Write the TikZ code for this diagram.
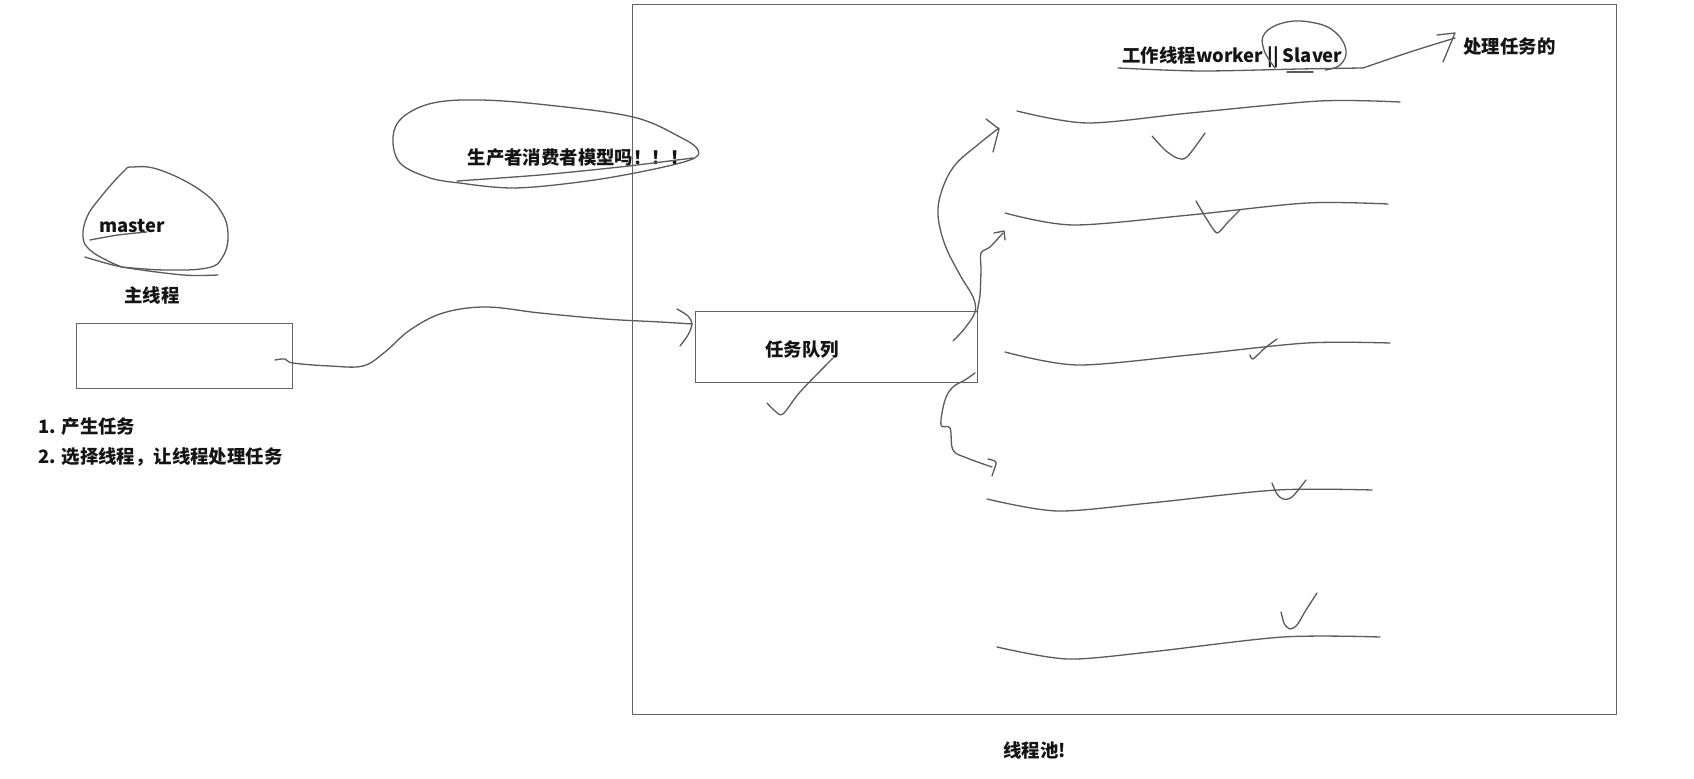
\documentclass[tikz,border=0pt]{standalone}
\usepackage{fontspec}
\setmainfont{Noto Sans CJK SC}
\definecolor{ink}{RGB}{90,90,90}
\definecolor{framec}{RGB}{100,100,100}
\definecolor{txt}{RGB}{20,20,20}
\begin{document}
\begin{tikzpicture}[x=0.5pt,y=-0.5pt,
  pen/.style={draw=ink,line width=0.65pt,line cap=round,line join=round},
  frame/.style={draw=framec,line width=0.65pt,inner sep=0pt},
  lbl/.style={font=\bfseries\fontsize{9.2}{11}\selectfont,text=txt,inner sep=0pt}]
\useasboundingbox (0,0) rectangle (1694,779);
\fill[white] (0,0) rectangle (1694,779);

% boxes
\node[frame,anchor=north west,minimum width=108pt,minimum height=32.5pt] (mainbox) at (76,323) {};
\node[frame,anchor=north west,minimum width=141pt,minimum height=35.5pt] (queue) at (695,311) {};
\node[frame,anchor=north west,minimum width=492pt,minimum height=355pt] (pool) at (632,4) {};

% texts
\node[lbl] (master) at (132,226) {master};
\node[lbl] (mainthread) at (152,295) {主线程};
\node[lbl,anchor=west] (step1) at (38,427) {1. 产生任务};
\node[lbl,anchor=west] (step2) at (38,457) {2. 选择线程，让线程处理任务};
\node[lbl] (question) at (578,158) {生产者消费者模型吗！！！};
\node[lbl] (queuetxt) at (802,350) {任务队列};
\node[lbl,anchor=west] (worker) at (1122,57) {工作线程worker || Slaver};
\node[lbl,anchor=west] (handle) at (1463,47) {处理任务的};
\node[lbl,anchor=west] (pooltxt) at (1003,750) {线程池!};

% master blob
\draw[pen] plot[smooth,tension=0.7] coordinates {(122,267) (165,270) (207,268) (222,258) (228,237) (222,213) (200,190) (160,170) (133,167) (123,172) (100,198) (87,217) (83,237) (90,250) (108,261) (122,267)};
\draw[pen] plot[smooth] coordinates {(85,257) (122,267) (183,275) (218,275)};
\draw[pen] plot[smooth] coordinates {(90,240) (118,235) (147,232)};

% bubble
\draw[pen] plot[smooth,tension=0.6] coordinates {(460,183) (430,178) (400,163) (393,137) (403,117) (433,103) (480,100) (547,105) (633,117) (680,137) (698,150) (690,160) (640,172) (580,182) (513,188) (460,183)};
\draw[pen] plot[smooth] coordinates {(457,181) (540,175) (620,167) (693,158)};

% main -> queue
\draw[pen] plot[smooth,tension=0.6] coordinates {(275,360) (285,359) (293,363) (330,366) (363,366) (385,352) (410,330) (443,313) (486,307) (540,313) (605,319) (660,322) (692,324)};
\draw[pen] plot[smooth] coordinates {(677,309) (688,316) (692,324) (688,335) (680,346)};

% check in queue
\draw[pen] plot[smooth] coordinates {(767,403) (775,411) (783,414) (800,392) (833,358)};

% queue -> workers
\draw[pen] plot[smooth,tension=0.6] coordinates {(953,341) (965,328) (975,312) (973,297) (960,275) (945,245) (938,215) (942,190) (955,165) (980,143) (999,128)};
\draw[pen] (986,119) -- (999,129) -- (993,152);
\draw[pen] plot[smooth,tension=0.5] coordinates {(977,312) (980,295) (981,270) (981,253) (990,247) (1003,233)};
\draw[pen] (994,233) -- (1004,231) -- (1005,240);
\draw[pen] plot[smooth,tension=0.6] coordinates {(975,373) (965,380) (953,387) (945,400) (941,425) (950,428) (953,450) (967,458) (992,467)};
\draw[pen] plot[smooth] coordinates {(988,459) (996,462) (994,470) (992,476)};

% worker lines
\draw[pen] plot[smooth] coordinates {(1017,111) (1087,123) (1190,113) (1320,101) (1400,102)};
\draw[pen] plot[smooth] coordinates {(1005,213) (1073,225) (1190,215) (1307,203) (1388,204)};
\draw[pen] plot[smooth] coordinates {(1005,352) (1077,365) (1190,355) (1307,343) (1390,343)};
\draw[pen] plot[smooth] coordinates {(987,499) (1057,511) (1150,503) (1277,490) (1372,490)};
\draw[pen] plot[smooth] coordinates {(997,647) (1067,659) (1150,652) (1283,637) (1380,637)};

% checks
\draw[pen] plot[smooth] coordinates {(1152,136) (1165,150) (1177,158) (1187,157) (1205,133)};
\draw[pen] plot[smooth,tension=0.4] coordinates {(1196,201) (1206,218) (1217,233) (1228,222) (1240,210)};
\draw[pen] plot[smooth,tension=0.4] coordinates {(1250,355) (1253,359) (1265,348) (1277,339)};
\draw[pen] plot[smooth] coordinates {(1272,483) (1277,494) (1283,499) (1292,497) (1306,480)};
\draw[pen] plot[smooth] coordinates {(1281,612) (1283,620) (1285,625) (1290,629) (1297,625) (1306,610) (1317,593)};

% top annotation
\draw[pen] plot[smooth] coordinates {(1118,68) (1200,71) (1300,69) (1363,68)};
\draw[pen] plot[smooth] coordinates {(1363,68) (1410,52) (1455,38)};
\draw[pen] (1437,35) -- (1455,33) -- (1443,62);
\draw[pen] (1287,72) -- (1313,72);
\draw[pen] plot[smooth,tension=0.7] coordinates {(1275,68) (1264,50) (1265,33) (1287,22) (1315,23) (1335,32) (1346,50) (1340,65) (1325,70)};
\end{tikzpicture}
\end{document}
